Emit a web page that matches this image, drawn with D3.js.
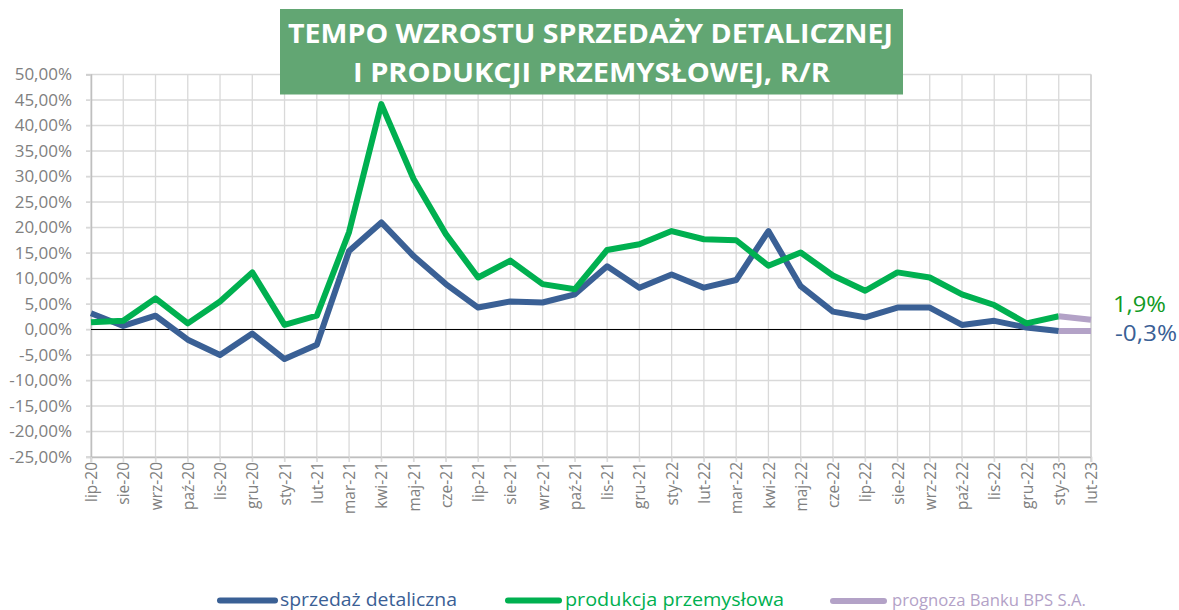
<!DOCTYPE html>
<html><head><meta charset="utf-8">
<script src="https://cdn.jsdelivr.net/npm/d3@7"></script>
<style>
html,body{margin:0;padding:0;background:#fff;}
svg{display:block;font-family:"Open Sans",sans-serif;}
</style></head>
<body>
<svg id="chart" width="1179" height="610"></svg>
<script>
const months = ["lip-20","sie-20","wrz-20","paź-20","lis-20","gru-20","sty-21","lut-21","mar-21","kwi-21","maj-21","cze-21","lip-21","sie-21","wrz-21","paź-21","lis-21","gru-21","sty-22","lut-22","mar-22","kwi-22","maj-22","cze-22","lip-22","sie-22","wrz-22","paź-22","lis-22","gru-22","sty-23","lut-23"];
const retail = [3.2,0.7,2.7,-2.0,-5.0,-0.8,-5.8,-3.0,15.4,21.0,14.4,8.9,4.3,5.5,5.3,6.9,12.4,8.2,10.8,8.2,9.7,19.3,8.5,3.5,2.4,4.3,4.3,0.9,1.7,0.4,-0.3,null];
const production = [1.4,1.7,6.1,1.2,5.5,11.2,0.9,2.7,19.1,44.2,29.5,18.7,10.2,13.5,8.9,7.9,15.6,16.7,19.3,17.7,17.5,12.5,15.1,10.6,7.6,11.2,10.2,6.9,4.8,1.2,2.6,null];
const forecastRetail = [null,null,null,null,null,null,null,null,null,null,null,null,null,null,null,null,null,null,null,null,null,null,null,null,null,null,null,null,null,null,-0.3,-0.3];
const forecastProduction = [null,null,null,null,null,null,null,null,null,null,null,null,null,null,null,null,null,null,null,null,null,null,null,null,null,null,null,null,null,null,2.6,1.9];
const yTicks = [-25,-20,-15,-10,-5,0,5,10,15,20,25,30,35,40,45,50];
const titleLines = ["TEMPO WZROSTU SPRZEDAŻY DETALICZNEJ","I PRODUKCJI PRZEMYSŁOWEJ, R/R"];
const legendItems = ["sprzedaż detaliczna","produkcja przemysłowa","prognoza Banku BPS S.A."];
const endLabels = ["1,9%","-0,3%"];

const C_BLUE = "#3a6095", C_GREEN = "#00b050", C_PURPLE = "#b3a2c7", GRID = "#d9d9d9", TXT = "#808080";

const svg = d3.select("#chart");
const L = 91, R = 1091, T = 74.5, B = 457;

const x = d3.scalePoint().domain(months).range([L, R]);
const y = d3.scaleLinear().domain([-25, 50]).range([B, T]);

// gridlines
const g = svg.append("g");
g.selectAll("line.h").data(yTicks).join("line")
  .attr("x1", L - 5).attr("x2", R).attr("y1", d => y(d)).attr("y2", d => y(d))
  .attr("stroke", GRID).attr("stroke-width", 1.3);
g.selectAll("line.v").data(months).join("line")
  .attr("x1", d => x(d)).attr("x2", d => x(d)).attr("y1", T).attr("y2", B + 5)
  .attr("stroke", GRID).attr("stroke-width", 1.3);

// axes
const yAxis = svg.append("g").attr("transform", `translate(${L},0)`)
  .call(d3.axisLeft(y).tickValues(yTicks).tickSize(5).tickPadding(14)
    .tickFormat(d => d.toFixed(2).replace(".", ",") + "%"));
yAxis.select(".domain").attr("stroke", "#bfbfbf").attr("stroke-width", 1.5);
yAxis.selectAll(".tick line").attr("stroke", GRID);
yAxis.selectAll("text").attr("fill", TXT).style("font-size", "17px").style("font-family", "Open Sans");

const xAxis = svg.append("g").attr("transform", `translate(0,${B})`)
  .call(d3.axisBottom(x).tickSize(5).tickPadding(0));
xAxis.select(".domain").attr("stroke", "#bfbfbf").attr("stroke-width", 1.5);
xAxis.selectAll(".tick line").attr("stroke", GRID);
xAxis.selectAll("text").attr("fill", TXT).style("font-size", "15.5px").style("font-family", "Open Sans")
  .attr("text-anchor", "end").attr("transform", "rotate(-90)")
  .attr("x", -5).attr("y", 0).attr("dy", "0.36em");

// right border
svg.append("line").attr("x1", R).attr("x2", R).attr("y1", T).attr("y2", B).attr("stroke", "#d0d0d0").attr("stroke-width", 1.5);

// zero line
svg.append("line").attr("x1", L).attr("x2", R).attr("y1", y(0)).attr("y2", y(0)).attr("stroke", "#000").attr("stroke-width", 1.2);

const line = d3.line().defined(d => d.v !== null).x(d => x(d.m)).y(d => y(d.v));
function drawSeries(vals, color) {
  svg.append("path").datum(vals.map((v, i) => ({ m: months[i], v })))
    .attr("d", line).attr("fill", "none").attr("stroke", color)
    .attr("stroke-width", 6).attr("stroke-linejoin", "round").attr("stroke-linecap", "butt");
}
drawSeries(retail, C_BLUE);
drawSeries(production, C_GREEN);
drawSeries(forecastRetail, C_PURPLE);
drawSeries(forecastProduction, C_PURPLE);

// end labels
svg.append("text").attr("x", 1113).attr("y", 312).text(endLabels[0])
  .attr("fill", "#119a1f").style("font-size", "22px").attr("textLength", 53).attr("lengthAdjust", "spacingAndGlyphs");
svg.append("text").attr("x", 1115).attr("y", 341).text(endLabels[1])
  .attr("fill", C_BLUE).style("font-size", "22px").attr("textLength", 62).attr("lengthAdjust", "spacingAndGlyphs");

// title box
svg.append("rect").attr("x", 280).attr("y", 9).attr("width", 623).attr("height", 85.5).attr("fill", "#62a673");
svg.append("text").attr("x", 288).attr("y", 43.3).text(titleLines[0])
  .attr("fill", "#fff").style("font-weight", "700").style("font-size", "27px")
  .attr("textLength", 605).attr("lengthAdjust", "spacingAndGlyphs");
svg.append("text").attr("x", 353).attr("y", 81.7).text(titleLines[1])
  .attr("fill", "#fff").style("font-weight", "700").style("font-size", "27px")
  .attr("textLength", 477).attr("lengthAdjust", "spacingAndGlyphs");

// legend
const leg = [
  { x1: 217, x2: 278, tx: 280, tw: 177, fs: 19, c: C_BLUE, cy: 600.5, by: 605.5 },
  { x1: 505, x2: 562, tx: 565, tw: 219, fs: 19, c: C_GREEN, cy: 600.5, by: 605.5 },
  { x1: 830, x2: 887, tx: 892, tw: 194, fs: 16.5, c: C_PURPLE, cy: 601, by: 605.5 }
];
leg.forEach((d, i) => {
  svg.append("line").attr("x1", d.x1 + 3).attr("x2", d.x2 - 3).attr("y1", d.cy).attr("y2", d.cy)
    .attr("stroke", d.c).attr("stroke-width", 6).attr("stroke-linecap", "round");
  svg.append("text").attr("x", d.tx).attr("y", d.by).text(legendItems[i])
    .attr("fill", d.c).style("font-size", d.fs + "px")
    .attr("textLength", d.tw).attr("lengthAdjust", "spacingAndGlyphs");
});
</script>
</body></html>
